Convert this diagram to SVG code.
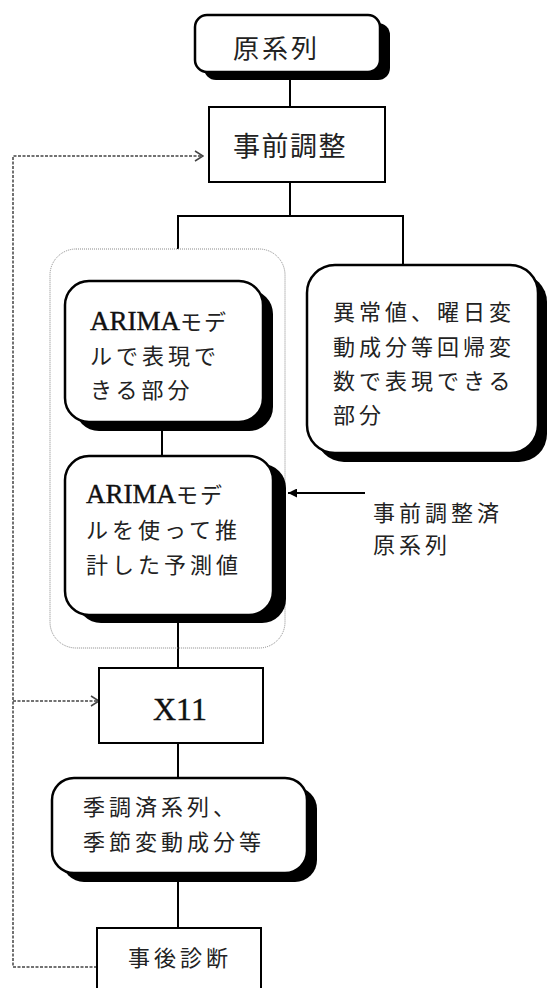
<svg xmlns="http://www.w3.org/2000/svg" width="549" height="988" viewBox="0 0 549 988">
<style>
  .jp { font-family: "Noto Sans CJK JP", "Noto Sans", sans-serif; font-size: 22px; letter-spacing: 4px; fill: #222; }
  .lat { font-family: "Liberation Serif", "Noto Sans CJK JP", serif; font-size: 27px; letter-spacing: 0; fill: #111; stroke: #111; stroke-width: 0.4; }
  .box { fill: #fff; stroke: #000; stroke-width: 2.5; }
  .shadow { fill: #000; stroke: none; }
  .sq { fill: #fff; stroke: #000; stroke-width: 2; }
  .line { stroke: #000; stroke-width: 2; fill: none; }
  .dash { stroke: #444; stroke-width: 1.5; stroke-dasharray: 3 1.5; fill: none; }
  .dot { stroke: #888; stroke-width: 1; stroke-dasharray: 1 1; fill: none; }
</style>
<defs>
  <marker id="open" viewBox="0 0 10 12" refX="9" refY="6" markerWidth="10" markerHeight="12" markerUnits="userSpaceOnUse" orient="auto">
    <path d="M1,1 L9,6 L1,11" fill="none" stroke="#444" stroke-width="1.5"/>
  </marker>
  <marker id="solid" viewBox="0 0 10 10" refX="10" refY="5" markerWidth="11" markerHeight="9" markerUnits="userSpaceOnUse" orient="auto">
    <path d="M0,0 L10,5 L0,10 Z" fill="#000"/>
  </marker>
</defs>

<g id="connectors">
  <line class="line" x1="290" y1="72" x2="290" y2="107"/>
  <line class="line" x1="290" y1="182" x2="290" y2="216"/>
  <polyline class="line" points="178,249 178,216 403,216 403,265"/>
  <line class="line" x1="162" y1="431" x2="162" y2="456"/>
  <line class="line" x1="178" y1="623" x2="178" y2="668"/>
  <line class="line" x1="178" y1="743" x2="178" y2="778"/>
  <line class="line" x1="178" y1="882" x2="178" y2="928"/>
  <line class="line" x1="365" y1="493" x2="288" y2="493" stroke-width="1.5" marker-end="url(#solid)"/>
  <polyline class="dash" points="97,967 13,967 13,156 203,156" marker-end="url(#open)"/>
  <line class="dash" x1="13" y1="701" x2="99" y2="701" marker-end="url(#open)"/>
</g>

<g id="group-arima">
  <rect class="dot" x="50" y="249" width="235" height="399" rx="26"/>
</g>

<g id="node-gen">
  <rect class="shadow" x="204" y="23" width="186" height="57" rx="12"/>
  <rect class="box" x="195" y="15" width="185" height="57" rx="12"/>
  <text class="jp" x="233" y="58" style="font-size:26px;letter-spacing:3px">原系列</text>
</g>

<g id="node-jizen">
  <rect class="sq" x="209" y="107" width="176" height="75"/>
  <text class="jp" x="233" y="156" style="font-size:27px;letter-spacing:1.5px">事前調整</text>
</g>

<g id="node-arima1">
  <rect class="shadow" x="75" y="290" width="198" height="141" rx="24"/>
  <rect class="box" x="65" y="281" width="198" height="141" rx="24"/>
  <text x="90" y="330"><tspan class="lat">ARIMA</tspan><tspan class="jp" style="letter-spacing:2px">モデ</tspan></text>
  <text class="jp" x="90" y="364">ルで表現で</text>
  <text class="jp" x="90" y="398">きる部分</text>
</g>

<g id="node-reg">
  <rect class="shadow" x="316" y="274" width="231" height="188" rx="28"/>
  <rect class="box" x="307" y="265" width="231" height="188" rx="28"/>
  <text class="jp" x="333" y="320">異常値、曜日変</text>
  <text class="jp" x="333" y="355">動成分等回帰変</text>
  <text class="jp" x="333" y="389">数で表現できる</text>
  <text class="jp" x="333" y="423">部分</text>
</g>

<g id="node-arima2">
  <rect class="shadow" x="77" y="464" width="209" height="159" rx="24"/>
  <rect class="box" x="65" y="456" width="208" height="159" rx="24"/>
  <text x="86" y="503"><tspan class="lat">ARIMA</tspan><tspan class="jp" style="letter-spacing:2px">モデ</tspan></text>
  <text class="jp" x="86" y="538">ルを使って推</text>
  <text class="jp" x="86" y="573">計した予測値</text>
</g>

<g id="label-adjusted">
  <text class="jp" x="373" y="521">事前調整済</text>
  <text class="jp" x="373" y="553">原系列</text>
</g>

<g id="node-x11">
  <rect class="sq" x="99" y="668" width="164" height="75"/>
  <text class="lat" x="153" y="720" style="font-size:32px">X11</text>
</g>

<g id="node-sa">
  <rect class="shadow" x="62" y="787" width="255" height="95" rx="22"/>
  <rect class="box" x="52" y="778" width="255" height="95" rx="22"/>
  <text class="jp" x="83" y="815">季調済系列、</text>
  <text class="jp" x="83" y="850">季節変動成分等</text>
</g>

<g id="node-diag">
  <rect class="sq" x="97" y="928" width="164" height="70"/>
  <text class="jp" x="128" y="966">事後診断</text>
</g>
</svg>
